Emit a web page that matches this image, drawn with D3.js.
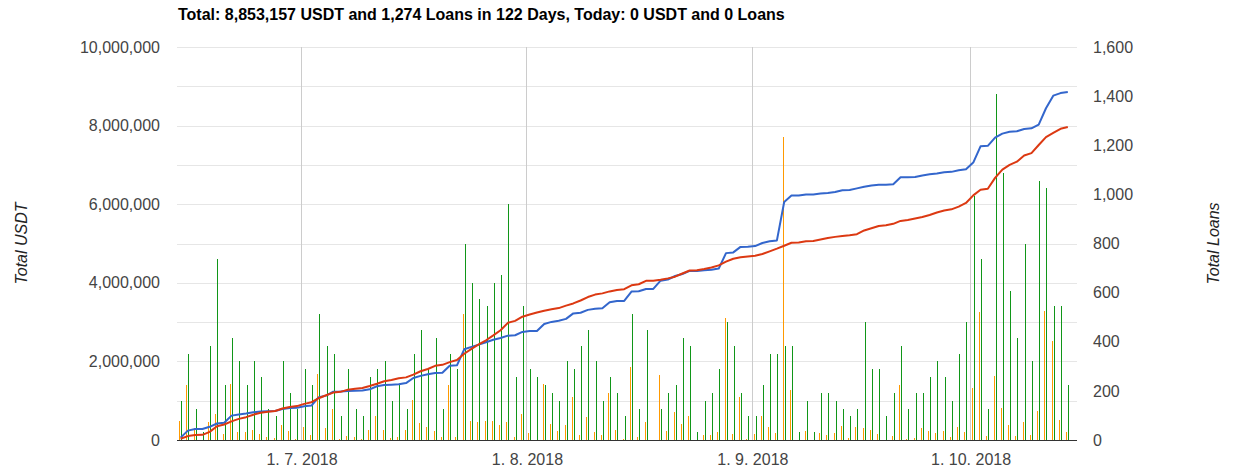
<!DOCTYPE html>
<html><head><meta charset="utf-8">
<script src="https://cdn.jsdelivr.net/npm/d3@7/dist/d3.min.js"></script>
<style>
body{margin:0;background:#fff;}
svg{display:block;font-family:Arial,"Liberation Sans",sans-serif;}
</style></head><body>
<svg id="chart" width="1235" height="474"></svg>
<script>
// ---------- data ----------
const titleText = "Total: 8,853,157 USDT and 1,274 Loans in 122 Days, Today: 0 USDT and 0 Loans";
const firstDay = "2018-06-14";

// cumulative USDT (left axis, blue line)
const totalUsdt = [61000,239000,278000,278000,336000,420000,439000,620000,646000,672000,704000,723000,733000,739000,787000,816000,819000,
861000,877000,1090000,1129000,1229000,1232000,1245000,1255000,1258000,1290000,1368000,1400000,1406000,1416000,1448000,1577000,1632000,1674000,1703000,1713000,1891000,1901000,2308000,2369000,2427000,2488000,2549000,2597000,2655000,2665000,2749000,
2772000,2772000,2953000,3005000,3034000,3082000,3221000,3237000,3311000,3337000,3353000,3505000,3537000,3540000,3776000,3786000,3844000,3844000,4054000,4083000,4173000,4225000,4303000,4303000,4319000,4335000,4361000,4755000,4774000,4913000,4916000,
4935000,5013000,5055000,5078000,6057000,6219000,6219000,6248000,6248000,6271000,6287000,6310000,6355000,6361000,6403000,6442000,6474000,6493000,6493000,6506000,6684000,6687000,6693000,6732000,6761000,6784000,6813000,6823000,6865000,6891000,
7059000,7473000,7486000,7693000,7796000,7844000,7857000,7915000,7931000,8025000,8442000,8762000,8827000,8853157];

// cumulative loans (right axis, red line)
const totalLoans = [5,16,20,21,33,56,63,76,86,93,103,111,115,118,128,134,138,
147,154,170,182,193,196,205,209,212,220,229,239,244,251,255,266,280,289,302,306,317,326,351,371,389,406,426,447,477,485,502,
511,519,526,532,537,547,556,568,582,592,597,605,611,614,630,634,648,648,652,658,665,678,690,691,696,702,711,726,738,744,747,
750,757,768,779,791,803,804,809,810,816,822,827,831,834,838,853,862,871,874,880,892,896,902,908,916,926,934,939,950,965,
996,1019,1023,1067,1101,1120,1133,1158,1168,1201,1233,1250,1267,1274];

// daily USDT (orange bars, own hidden scale)
const dailyUsdt = [61000,178000,39000,0,58000,84000,19000,181000,26000,26000,32000,19000,10000,6000,48000,29000,3000,
42000,16000,213000,39000,100000,3000,13000,10000,3000,32000,78000,32000,6000,10000,32000,129000,55000,42000,29000,10000,178000,10000,407000,61000,58000,61000,61000,48000,58000,10000,84000,
23000,0,181000,52000,29000,48000,139000,16000,74000,26000,16000,152000,32000,3000,236000,10000,58000,0,210000,29000,90000,52000,78000,0,16000,16000,26000,394000,19000,139000,3000,
19000,78000,42000,23000,979000,162000,0,29000,0,23000,16000,23000,45000,6000,42000,39000,32000,19000,0,13000,178000,3000,6000,39000,29000,23000,29000,10000,42000,26000,
168000,414000,13000,207000,103000,48000,13000,58000,16000,94000,417000,320000,65000,26157];

// daily loans (green bars, own hidden scale)
const dailyLoans = [5,11,4,1,12,23,7,13,10,7,10,8,4,3,10,6,4,
9,7,16,12,11,3,9,4,3,8,9,10,5,7,4,11,14,9,13,4,11,9,25,20,18,17,20,21,30,8,17,
9,8,7,6,5,10,9,12,14,10,5,8,6,3,16,4,14,0,4,6,7,13,12,1,5,6,9,15,12,6,3,
3,7,11,11,12,12,1,5,1,6,6,5,4,3,4,15,9,9,3,6,12,4,6,6,8,10,8,5,11,15,
31,23,4,44,34,19,13,25,10,33,32,17,17,7];

const leftTicks = [0,2000000,4000000,6000000,8000000,10000000];
const leftGrid = [0,1000000,2000000,3000000,4000000,5000000,6000000,7000000,8000000,9000000,10000000];
const rightTicks = [0,200,400,600,800,1000,1200,1400,1600];
const monthTicks = ["2018-07-01","2018-08-01","2018-09-01","2018-10-01"];
const leftTitle = "Total USDT";
const rightTitle = "Total Loans";

// ---------- layout ----------
const plot = {left:177, right:1077, top:47, bottom:440};
const svg = d3.select("#chart");
const parseDay = d3.utcParse("%Y-%m-%d");
const day0 = parseDay(firstDay);
const days = d3.utcDay.range(day0, d3.utcDay.offset(day0, dailyLoans.length));
const months = monthTicks.map(parseDay);

const x = d3.scaleUtc()
  .domain([Date.UTC(2018,5,13,21,7), Date.UTC(2018,9,15,15,22)])
  .range([plot.left, plot.right]);
const cx = d => x(d3.utcHour.offset(d, 9));
const yL = d3.scaleLinear().domain([0, 10000000]).range([plot.bottom, plot.top]);
const yR = d3.scaleLinear().domain([0, 1600]).range([plot.bottom, plot.top]);
const yOrange = d3.scaleLinear().domain([0, 1270000]).range([plot.bottom, plot.top]);
const yGreen = d3.scaleLinear().domain([0, 50]).range([plot.bottom, plot.top]);

// gridlines
svg.append("g").selectAll("line").data(leftGrid).join("line")
  .attr("x1", plot.left).attr("x2", plot.right)
  .attr("y1", d => Math.round(yL(d)) + 0.5).attr("y2", d => Math.round(yL(d)) + 0.5)
  .attr("stroke", "#e6e6e6").attr("stroke-width", 1);

svg.append("g").selectAll("line").data(months).join("line")
  .attr("x1", d => Math.floor(x(d)) + 0.5).attr("x2", d => Math.floor(x(d)) + 0.5)
  .attr("y1", plot.top).attr("y2", plot.bottom)
  .attr("stroke", "#cccccc").attr("stroke-width", 1);

// bars
const barData = days.map((d, i) => ({d, usdt: dailyUsdt[i], loans: dailyLoans[i]}));
const bars = svg.append("g").attr("shape-rendering", "crispEdges");
bars.selectAll("rect.o").data(barData).join("rect").attr("class", "o")
  .attr("x", b => Math.round(cx(b.d) - 1.5))
  .attr("width", 1)
  .attr("y", b => yOrange(b.usdt))
  .attr("height", b => plot.bottom - yOrange(b.usdt))
  .attr("fill", "#ff9900");
bars.selectAll("rect.g").data(barData).join("rect").attr("class", "g")
  .attr("x", b => Math.round(cx(b.d) - 1.5) + 2)
  .attr("width", 1)
  .attr("y", b => yGreen(b.loans))
  .attr("height", b => plot.bottom - yGreen(b.loans))
  .attr("fill", "#109618");

// lines
const lineL = d3.line().x((v, i) => cx(days[i])).y(v => yL(v));
const lineR = d3.line().x((v, i) => cx(days[i])).y(v => yR(v));
svg.append("path").datum(totalUsdt).attr("d", lineL)
  .attr("fill", "none").attr("stroke", "#3366cc").attr("stroke-width", 2).attr("stroke-linejoin", "round");
svg.append("path").datum(totalLoans).attr("d", lineR)
  .attr("fill", "none").attr("stroke", "#dc3912").attr("stroke-width", 2).attr("stroke-linejoin", "round");

// baseline
svg.append("line").attr("x1", plot.left).attr("x2", plot.right)
  .attr("y1", plot.bottom + 0.5).attr("y2", plot.bottom + 0.5)
  .attr("stroke", "#333333").attr("stroke-width", 1);

// axes
const fmt = d3.format(",");
const gL = svg.append("g").attr("transform", `translate(${plot.left},0)`)
  .call(d3.axisLeft(yL).tickValues(leftTicks).tickSize(0).tickPadding(17).tickFormat(fmt));
const gR = svg.append("g").attr("transform", `translate(${plot.right},0)`)
  .call(d3.axisRight(yR).tickValues(rightTicks).tickSize(0).tickPadding(16).tickFormat(fmt));
const gX = svg.append("g").attr("transform", `translate(0,${plot.bottom})`)
  .call(d3.axisBottom(x).tickValues(months).tickSize(0).tickPadding(14).tickFormat(d3.utcFormat("%-d. %-m. %Y")));
[gL, gR, gX].forEach(g => {
  g.select(".domain").remove();
  g.selectAll("text").attr("font-size", 16).attr("font-family", "Arial, 'Liberation Sans', sans-serif").attr("fill", "#444444");
});

// titles
svg.append("text").attr("x", 178).attr("y", 19.5)
  .attr("font-size", 16).attr("font-weight", "bold").attr("fill", "#000")
  .text(titleText);
svg.append("text").attr("transform", `translate(26.5,${(plot.top+plot.bottom)/2}) rotate(-90)`)
  .attr("text-anchor", "middle").attr("font-size", 16).attr("font-style", "italic").attr("fill", "#222")
  .text(leftTitle);
svg.append("text").attr("transform", `translate(1219,${(plot.top+plot.bottom)/2}) rotate(-90)`)
  .attr("text-anchor", "middle").attr("font-size", 16).attr("font-style", "italic").attr("fill", "#222")
  .text(rightTitle);
</script>
</body></html>
